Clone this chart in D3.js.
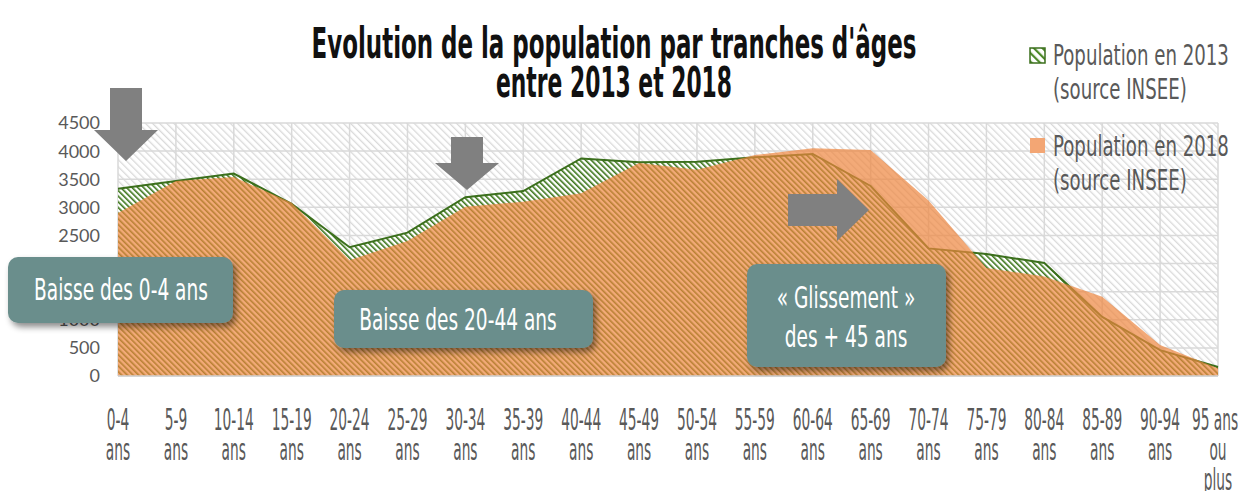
<!DOCTYPE html>
<html>
<head>
<meta charset="utf-8">
<script src="https://cdn.jsdelivr.net/npm/d3@7"></script>
<style>
  body { margin: 0; background: #ffffff; }
  svg { display: block; }
</style>
</head>
<body>
<div id="chart"></div>
<script>
// tranches d'âges
const categories = ["0-4 ans", "5-9 ans", "10-14 ans", "15-19 ans", "20-24 ans", "25-29 ans",
    "30-34 ans", "35-39 ans", "40-44 ans", "45-49 ans", "50-54 ans", "55-59 ans", "60-64 ans",
    "65-69 ans", "70-74 ans", "75-79 ans", "80-84 ans", "85-89 ans", "90-94 ans", "95 ans ou plus"];

const pop2013 = [3330, 3470, 3600, 3060, 2290, 2550, 3180, 3290, 3870, 3800,
    3810, 3890, 3950, 3380, 2270, 2170, 2010, 1050, 460, 160];
const pop2018 = [2900, 3470, 3540, 3080, 2060, 2400, 3010, 3100, 3250, 3790,
    3670, 3930, 4050, 4020, 3120, 1920, 1770, 1410, 550, 140];

const yTicks = [0, 500, 1000, 1500, 2000, 2500, 3000, 3500, 4000, 4500];

const seriesNames = ["Population en 2013", "Population en 2018"];
const seriesSource = "(source INSEE)";

const W = 1249, H = 491;
const plot = {left: 118, right: 1218, top: 123, bottom: 376};

const CONDENSED = '"Liberation Sans Narrow", "DejaVu Sans Condensed", "Liberation Sans", sans-serif';
const TEXT_GREY = "#595959";

const svg = d3.select("#chart").append("svg")
    .attr("width", W)
    .attr("height", H);

const defs = svg.append("defs");

// hachures du fond de la zone de tracé
const bgPat = defs.append("pattern")
    .attr("id", "bgHatch")
    .attr("patternUnits", "userSpaceOnUse")
    .attr("width", 5).attr("height", 5)
    .attr("patternTransform", "rotate(-45)");
bgPat.append("rect").attr("width", 5).attr("height", 5).attr("fill", "#ffffff");
bgPat.append("rect").attr("width", 1.3).attr("height", 5).attr("fill", "#dadada");

// hachures vertes de la série 2013
const greenPat = defs.append("pattern")
    .attr("id", "greenHatch")
    .attr("patternUnits", "userSpaceOnUse")
    .attr("width", 4).attr("height", 4)
    .attr("patternTransform", "rotate(-45)");
greenPat.append("rect").attr("width", 4).attr("height", 4).attr("fill", "#ffffff");
greenPat.append("rect").attr("width", 1.6).attr("height", 4).attr("fill", "#3a7418");

const legendPat = defs.append("pattern")
    .attr("id", "legendHatch")
    .attr("patternUnits", "userSpaceOnUse")
    .attr("width", 6).attr("height", 6)
    .attr("patternTransform", "rotate(-45)");
legendPat.append("rect").attr("width", 6).attr("height", 6).attr("fill", "#ffffff");
legendPat.append("rect").attr("width", 2.2).attr("height", 6).attr("fill", "#4e8a2a");

const shadow = defs.append("filter")
    .attr("id", "boxShadow")
    .attr("x", "-20%").attr("y", "-30%")
    .attr("width", "140%").attr("height", "160%");
shadow.append("feDropShadow")
    .attr("dx", 3).attr("dy", 4)
    .attr("stdDeviation", 3)
    .attr("flood-color", "#000000")
    .attr("flood-opacity", 0.45);

// scales
const x = d3.scalePoint()
    .domain(categories)
    .range([plot.left, plot.right]);

const y = d3.scaleLinear()
    .domain([0, 4500])
    .range([plot.bottom, plot.top]);

// squeeze text horizontally (condensed look of the original) with a transform,
// so that the bounding boxes stay right
function squeeze(sel, ratio) {
    sel.each(function() {
        const t = d3.select(this);
        const tx = +t.attr("x"), ty = +t.attr("y");
        t.attr("x", 0).attr("y", 0)
            .attr("transform", `translate(${tx},${ty}) scale(${ratio},1)`);
    });
}

// plot background
svg.append("rect")
    .attr("x", plot.left).attr("y", plot.top)
    .attr("width", plot.right - plot.left)
    .attr("height", plot.bottom - plot.top)
    .attr("fill", "url(#bgHatch)");

// grid
const grid = svg.append("g").attr("class", "grid");
grid.selectAll(".hline")
    .data(yTicks)
    .enter().append("line")
    .attr("x1", plot.left).attr("x2", plot.right)
    .attr("y1", d => y(d)).attr("y2", d => y(d))
    .attr("stroke", "#d9d9d9")
    .attr("stroke-width", 1.5);
grid.selectAll(".vline")
    .data(categories)
    .enter().append("line")
    .attr("x1", d => x(d)).attr("x2", d => x(d))
    .attr("y1", plot.top).attr("y2", plot.bottom)
    .attr("stroke", "#d9d9d9")
    .attr("stroke-width", 1.5);

// areas
const area = d3.area()
    .x((d, i) => x(categories[i]))
    .y0(y(0))
    .y1(d => y(d));

const line = d3.line()
    .x((d, i) => x(categories[i]))
    .y(d => y(d));

svg.append("path")
    .datum(pop2013)
    .attr("d", area)
    .attr("fill", "url(#greenHatch)");

svg.append("path")
    .datum(pop2013)
    .attr("d", line)
    .attr("fill", "none")
    .attr("stroke", "#3b6f1c")
    .attr("stroke-width", 2);

svg.append("path")
    .datum(pop2018)
    .attr("d", area)
    .attr("fill", "#ee863e")
    .attr("fill-opacity", 0.7);

// bottom axis line
svg.append("line")
    .attr("x1", plot.left).attr("x2", plot.right)
    .attr("y1", plot.bottom).attr("y2", plot.bottom)
    .attr("stroke", "#d0d0d0")
    .attr("stroke-width", 1.5);

// y labels
svg.append("g")
    .selectAll("text")
    .data(yTicks)
    .enter().append("text")
    .attr("x", 100)
    .attr("y", d => y(d))
    .attr("dy", "0.36em")
    .attr("text-anchor", "end")
    .style("font-family", "Lato, 'Open Sans', sans-serif")
    .style("font-size", "18px")
    .style("fill", TEXT_GREY)
    .text(d => d);

// x labels (on 2 or 3 lines)
function splitLabel(c) {
    if (c === "95 ans ou plus") return ["95 ans", "ou", "plus"];
    return [c.replace(" ans", ""), "ans"];
}

const xLab = svg.append("g").attr("class", "x-labels");
const xTexts = xLab.selectAll("g")
    .data(categories)
    .enter().append("g")
    .attr("transform", d => `translate(${x(d)},0)`)
    .selectAll("text")
    .data(d => splitLabel(d))
    .enter().append("text")
    .attr("x", d => d === "95 ans" ? -3 : 0)
    .attr("y", (d, i) => 430 + i * 30)
    .attr("text-anchor", "middle")
    .style("font-family", CONDENSED)
    .style("font-size", "31px")
    .style("fill", TEXT_GREY)
    .text(d => d);

let refW = 0;
xTexts.each(function(d) { if (d === "10-14") refW = this.getComputedTextLength(); });
squeeze(xTexts, 40 / refW);

// title
const titleLines = ["Evolution de la population par tranches d'âges", "entre 2013 et 2018"];
const title = svg.append("g").selectAll("text")
    .data(titleLines)
    .enter().append("text")
    .attr("x", 614)
    .attr("y", (d, i) => 58 + i * 39)
    .attr("text-anchor", "middle")
    .style("font-family", CONDENSED)
    .style("font-weight", "bold")
    .style("font-size", "42px")
    .style("fill", "#111111")
    .text(d => d);
squeeze(title.filter((d, i) => i === 0), 605 / title.nodes()[0].getComputedTextLength());
squeeze(title.filter((d, i) => i === 1), 236 / title.nodes()[1].getComputedTextLength());

// legend
const legend = svg.append("g").attr("class", "legend");
const legendItems = [
    {name: seriesNames[0], top: 48, fill: "url(#legendHatch)", stroke: "#3b6f1c", base: 65},
    {name: seriesNames[1], top: 138, fill: "#f3a674", stroke: "none", base: 156}
];
legendItems.forEach(item => {
    legend.append("rect")
        .attr("x", 1030).attr("y", item.top)
        .attr("width", 15).attr("height", 15)
        .attr("fill", item.fill)
        .attr("stroke", item.stroke)
        .attr("stroke-width", 1.5);
    [item.name, seriesSource].forEach((t, i) => {
        legend.append("text")
            .attr("x", 1053)
            .attr("y", item.base + i * 34)
            .style("font-family", CONDENSED)
            .style("font-size", "29px")
            .style("fill", TEXT_GREY)
            .text(t);
    });
});
const legTexts = legend.selectAll("text");
squeeze(legTexts, 176 / legTexts.node().getComputedTextLength());

// arrows
const arrows = [
    [[110, 88], [142, 88], [142, 130], [158, 130], [126, 161], [94, 130], [110, 130]],
    [[451, 137], [483, 137], [483, 163], [499, 163], [467, 190], [435, 163], [451, 163]],
    [[788, 194], [837, 194], [837, 179], [869, 210], [837, 241], [837, 226], [788, 226]]
];
svg.append("g").selectAll("polygon")
    .data(arrows)
    .enter().append("polygon")
    .attr("points", d => d.map(p => p.join(",")).join(" "))
    .attr("fill", "#808080");

// annotation boxes
const boxes = [
    {x: 8, y: 257, w: 225, h: 66, cx: 121, lines: ["Baisse des 0-4 ans"], base: 300},
    {x: 334, y: 290, w: 259, h: 58, cx: 458, lines: ["Baisse des 20-44 ans"], base: 330},
    {x: 747, y: 264, w: 199, h: 103, cx: 846, lines: ["« Glissement »", "des + 45 ans"], base: 308}
];
const boxG = svg.append("g").attr("class", "boxes");
boxes.forEach(b => {
    boxG.append("rect")
        .attr("x", b.x).attr("y", b.y)
        .attr("width", b.w).attr("height", b.h)
        .attr("rx", 10).attr("ry", 10)
        .attr("fill", "#6b8e8c")
        .attr("filter", "url(#boxShadow)");
    b.lines.forEach((t, i) => {
        boxG.append("text")
            .attr("x", b.cx)
            .attr("y", b.base + i * 39)
            .attr("text-anchor", "middle")
            .style("font-family", CONDENSED)
            .style("font-size", "30px")
            .style("fill", "#ffffff")
            .text(t);
    });
});
const boxTexts = boxG.selectAll("text");
squeeze(boxTexts, 174 / boxTexts.node().getComputedTextLength());
</script>
</body>
</html>
